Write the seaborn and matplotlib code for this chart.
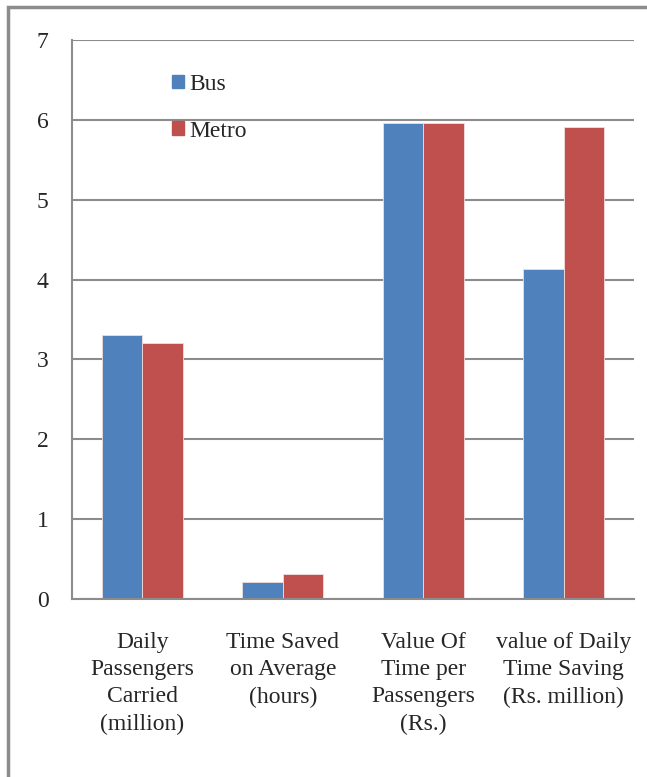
import pandas as pd
import seaborn as sns
import matplotlib.pyplot as plt
import matplotlib.patches as mpatches
import numpy as np

# Data
categories = [
    "Daily\nPassengers\nCarried\n(million)",
    "Time Saved\non Average\n(hours)",
    "Value Of\nTime per\nPassengers\n(Rs.)",
    "value of Daily\nTime Saving\n(Rs. million)",
]
bus_values = [3.30, 0.21, 5.96, 4.13]
metro_values = [3.20, 0.31, 5.96, 5.91]
series_names = ["Bus", "Metro"]
y_ticks = [0, 1, 2, 3, 4, 5, 6, 7]

df = pd.DataFrame({
    "Category": categories * 2,
    "Value": bus_values + metro_values,
    "Mode": [series_names[0]] * 4 + [series_names[1]] * 4,
})

sns.set_style("white")
plt.rcParams['font.family'] = ['Liberation Serif', 'DejaVu Serif']
plt.rcParams['font.size'] = 17

colors = {"Bus": "#4F81BD", "Metro": "#C0504D"}
grid_col = "#8c8c8c"

fig = plt.figure(figsize=(6.47, 7.77), dpi=100)
ax = fig.add_axes([72 / 647, 1 - 599 / 777, (634 - 72) / 647, (599 - 40) / 777])

sns.barplot(data=df, x="Category", y="Value", hue="Mode", palette=colors,
            saturation=1, width=0.58, edgecolor="#f2dede", linewidth=0.6,
            ax=ax, legend=False)

ax.set_ylim(0, 7)
ax.set_xlim(-0.5, 3.5)
ax.set_yticks(y_ticks)
ax.set_yticklabels([str(t) for t in y_ticks], fontsize=17)
ax.yaxis.grid(True, color=grid_col, linewidth=1.5)
ax.set_axisbelow(True)
ax.set_xlabel("")
ax.set_ylabel("")

# category labels centred, tick marks at group boundaries
ax.set_xticks(range(4))
ax.set_xticklabels(categories, fontsize=17, linespacing=1.38)
ax.tick_params(axis='x', which='major', length=0, pad=24)
ax.set_xticks(np.arange(-0.5, 4, 1), minor=True)
ax.tick_params(axis='x', which='minor', length=6, width=1.5, color=grid_col, direction='out')
ax.tick_params(axis='y', length=6, width=1.5, color=grid_col, direction='out', pad=11)

for s in ['top', 'right']:
    ax.spines[s].set_visible(False)
for s in ['left', 'bottom']:
    ax.spines[s].set_color(grid_col)
    ax.spines[s].set_linewidth(1.5)

handles = [mpatches.Patch(color=colors[m], label=m) for m in series_names]
ax.legend(handles=handles, loc='upper left', bbox_to_anchor=(0.14, 0.977),
          frameon=False, fontsize=17, handlelength=0.5, handleheight=0.5,
          handletextpad=0.25, labelspacing=1.08)

# outer chart border (right and bottom edges fall outside the image)
fig.patches.append(mpatches.Rectangle((8 / 647, -0.05), 1.0, 1 - 7 / 777 + 0.05,
                                      transform=fig.transFigure, fill=False,
                                      edgecolor="#8c8c8c", linewidth=2.5))

plt.savefig('out.png', dpi=100)
